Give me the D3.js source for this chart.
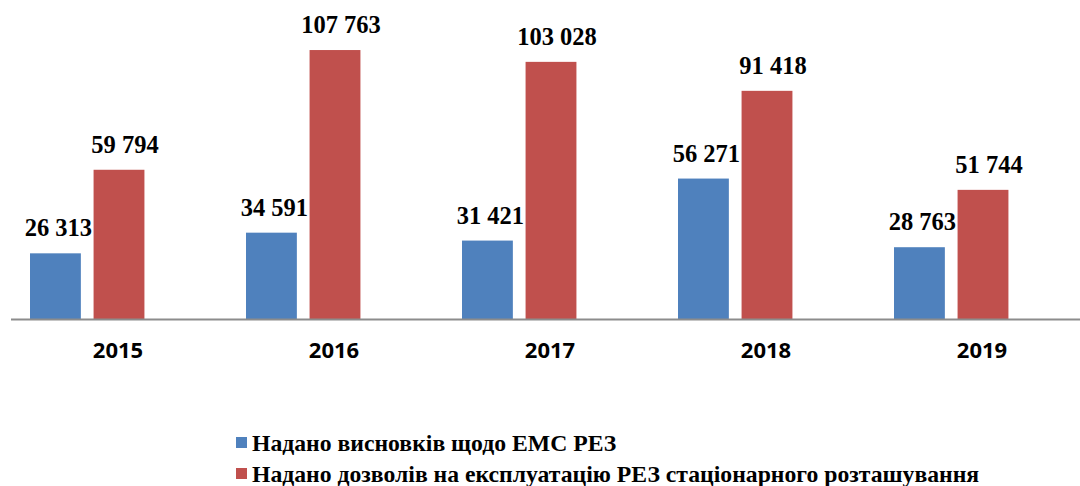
<!DOCTYPE html>
<html>
<head>
  <meta charset="utf-8">
  <script src="https://d3js.org/d3.v7.min.js"></script>
  <style>
    body { margin: 0; background: #fff; }
  </style>
</head>
<body>
  <svg id="chart"></svg>
  <script>
    // data
    const years = ["2015", "2016", "2017", "2018", "2019"];
    const emcConclusions = [26313, 34591, 31421, 56271, 28763];
    const operationPermits = [59794, 107763, 103028, 91418, 51744];
    const seriesNames = [
      "Надано висновків щодо ЕМС РЕЗ",
      "Надано дозволів на експлуатацію РЕЗ стаціонарного розташування"
    ];
    const seriesColors = ["#4f81bd", "#c0504d"];

    const SERIF = "Liberation Serif";
    const SANS = "Open Sans";

    const width = 1080, height = 486;
    const svg = d3.select("#chart").attr("width", width).attr("height", height);

    const x0 = d3.scaleBand().domain(years).range([11, 1091]).paddingInner(0).paddingOuter(0);
    // three slots per category (third one is empty in the original chart)
    const x1 = d3.scaleBand().domain([0, 1, 2]).range([19, 197]).paddingInner(0.2).paddingOuter(0);
    const y = d3.scaleLinear().domain([0, 120000]).range([319, 19.5]);

    const fmt = v => d3.format(",")(v).replace(/,/g, " ");

    const series = [emcConclusions, operationPermits];

    series.forEach((vals, si) => {
      const g = svg.append("g");
      g.selectAll("rect")
        .data(vals)
        .enter()
        .append("rect")
        .attr("x", (d, i) => x0(years[i]) + x1(si))
        .attr("y", d => y(d))
        .attr("width", x1.bandwidth())
        .attr("height", d => y(0) - y(d))
        .attr("fill", seriesColors[si]);

      g.selectAll("text")
        .data(vals)
        .enter()
        .append("text")
        .attr("x", (d, i) => x0(years[i]) + x1(si) + x1.bandwidth() / 2 + (si ? 6 : 3))
        .attr("y", d => y(d) - 17)
        .attr("text-anchor", "middle")
        .attr("font-family", SERIF)
        .attr("font-weight", "bold")
        .attr("font-size", 24.5)
        .attr("fill", "#000")
        .text(fmt);
    });

    // baseline
    svg.append("line")
      .attr("x1", 11).attr("x2", 1080)
      .attr("y1", y(0) + 0.5).attr("y2", y(0) + 0.5)
      .attr("stroke", "#8c8c8c")
      .attr("stroke-width", 2);

    // category labels
    svg.selectAll(".year")
      .data(years)
      .enter()
      .append("text")
      .attr("class", "year")
      .attr("x", d => x0(d) + x0.bandwidth() / 2 - 1)
      .attr("y", 358)
      .attr("text-anchor", "middle")
      .attr("font-family", SANS)
      .attr("font-weight", "bold")
      .attr("font-size", 22)
      .attr("fill", "#000")
      .text(d => d);

    // legend
    const legend = svg.append("g");
    seriesNames.forEach((name, i) => {
      const ly = 451 + i * 31;
      legend.append("rect")
        .attr("x", 236).attr("y", ly - 14)
        .attr("width", 11).attr("height", 11)
        .attr("fill", seriesColors[i]);
      legend.append("text")
        .attr("x", 252).attr("y", ly)
        .attr("font-family", SERIF)
        .attr("font-weight", "bold")
        .attr("font-size", 23.7)
        .attr("fill", "#000")
        .text(name);
    });
  </script>
</body>
</html>
